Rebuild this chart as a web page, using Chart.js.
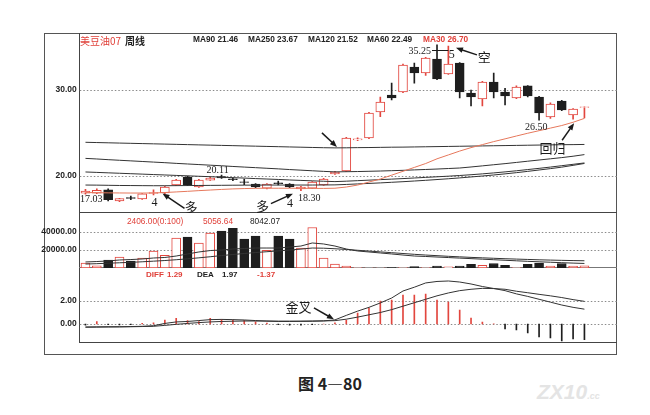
<!DOCTYPE html>
<html lang="zh-CN">
<head>
<meta charset="UTF-8">
<title>美豆油07 周线</title>
<script src="https://cdn.jsdelivr.net/npm/chart.js"></script>
<style>
    html, body { margin: 0; padding: 0; background: #fff; }
    body { position: relative; width: 650px; height: 415px; overflow: hidden; font-family: "Liberation Sans", Arial, sans-serif; color: #222; }
    canvas { position: absolute; left: 0; }
    .t { position: absolute; white-space: nowrap; line-height: 1; }
    .ln { position: absolute; background: #444; }
    .red { color: #e0413a; }
    .hd { top: 35px; font-size: 8.3px; font-weight: bold; }
    .vl { top: 217px; font-size: 8.3px; }
    .ml { top: 271px; font-size: 8px; font-weight: bold; }
    .cjk { font-family: "Noto Sans CJK SC", sans-serif; }
</style>
</head>
<body>

    <!-- frame -->
    <div style="position:absolute;left:44px;top:33px;width:573px;height:322px;border:1px solid #555;box-sizing:border-box"></div>
    <div class="ln" style="left:79px;top:33px;width:1px;height:310px"></div>
    <div class="ln" style="left:79px;top:212px;width:538px;height:1px"></div>
    <div class="ln" style="left:79px;top:267px;width:538px;height:1px;background:#777"></div>
    <div class="ln" style="left:79px;top:342px;width:538px;height:1px"></div>

    <canvas id="priceChart" width="617" height="179" style="top:34px"></canvas>
    <canvas id="volChart" width="617" height="55" style="top:213px"></canvas>
    <canvas id="macdChart" width="617" height="75" style="top:268px"></canvas>

    <!-- price panel header -->
    <div class="t red cjk" style="left:80px;top:36px;font-size:10px">美豆油07</div>
    <div class="t cjk" style="left:125px;top:36px;font-size:10px;font-weight:bold">周线</div>
    <div class="t hd" style="left:193px">MA90 21.46</div>
    <div class="t hd" style="left:248px">MA250 23.67</div>
    <div class="t hd" style="left:308px">MA120 21.52</div>
    <div class="t hd" style="left:367px">MA60 22.49</div>
    <div class="t hd red" style="left:423px">MA30 26.70</div>

    <!-- volume header -->
    <div class="t vl red" style="left:127px">2406.00(0:100)</div>
    <div class="t vl red" style="left:203px">5056.64</div>
    <div class="t vl" style="left:250px">8042.07</div>

    <!-- MACD header -->
    <div class="t ml red" style="left:146px">DIFF</div>
    <div class="t ml red" style="left:167px">1.29</div>
    <div class="t ml" style="left:197px">DEA</div>
    <div class="t ml" style="left:222px">1.97</div>
    <div class="t ml red" style="left:257px">-1.37</div>

    <div class="t cjk" style="left:298px;top:375px;font-size:16px;font-weight:bold">图 4—80</div>
    <div class="t" style="left:537px;top:381px;font-size:21px;font-weight:bold;font-style:italic;color:#e4e4e4">ZX10<span style="font-size:9px">.cc</span></div>

    <script>
        // weekly bars, left to right
        const weeks = ['01', '02', '03', '04', '05', '06', '07', '08', '09', '10',
                       '11', '12', '13', '14', '15', '16', '17', '18', '19', '20',
                       '21', '22', '23', '24', '25', '26', '27', '28', '29', '30',
                       '31', '32', '33', '34', '35', '36', '37', '38', '39', '40',
                       '41', '42', '43', '44', '45'];

        const opens  = [18.00, 18.00, 18.40, 17.10, 17.48, 17.33, 17.98, 18.02, 18.95, 19.88,
                        18.72, 19.53, 19.92, 19.68, 19.33, 19.07, 18.60, 19.22, 19.07, 18.50,
                        18.60, 18.95, 20.23, 20.58, 24.20, 24.42, 27.44, 29.42, 29.77, 32.67,
                        31.98, 33.60, 31.86, 33.14, 29.65, 28.95, 30.93, 29.77, 29.07, 30.47,
                        29.19, 26.86, 28.72, 27.09, 27.98];
        const highs  = [18.45, 18.50, 18.50, 17.42, 17.68, 17.96, 18.38, 18.80, 19.60, 20.00,
                        19.60, 19.85, 20.11, 19.80, 19.65, 19.12, 19.12, 19.42, 19.12, 18.80,
                        19.36, 19.72, 20.55, 24.50, 24.45, 27.40, 29.19, 30.81, 33.00, 33.14,
                        33.80, 35.25, 35.10, 33.20, 30.00, 31.00, 31.98, 30.20, 30.47, 30.50,
                        29.25, 28.50, 28.80, 27.85, 28.05];
        const lows   = [17.90, 17.95, 17.10, 17.03, 17.25, 17.28, 17.80, 17.95, 18.88, 18.88,
                        18.68, 19.48, 19.72, 19.45, 19.00, 18.65, 18.50, 18.95, 18.65, 18.30,
                        18.55, 18.90, 20.18, 20.50, 24.10, 24.35, 26.90, 28.84, 29.70, 30.80,
                        31.70, 31.20, 31.80, 29.07, 28.14, 28.14, 29.07, 28.26, 29.00, 29.20,
                        26.50, 26.70, 27.60, 26.60, 26.74];
        const closes = [18.25, 18.35, 17.25, 17.38, 17.40, 17.92, 18.08, 18.72, 19.53, 18.95,
                        19.53, 19.77, 19.78, 19.58, 19.25, 18.72, 19.07, 19.12, 18.72, 18.72,
                        19.30, 19.65, 20.47, 24.42, 24.32, 27.33, 28.60, 29.07, 32.90, 31.98,
                        33.72, 31.28, 33.02, 29.77, 29.19, 30.93, 29.77, 29.30, 30.35, 29.30,
                        27.33, 28.37, 27.67, 27.79, 28.05];

        const ma30  = [18.08, 18.06, 18.04, 18.03, 18.02, 18.02, 18.03, 18.08, 18.15, 18.22,
                       18.30, 18.37, 18.44, 18.50, 18.54, 18.57, 18.58, 18.58, 18.58, 18.57,
                       18.56, 18.56, 18.58, 18.72, 18.95, 19.30, 19.65, 20.10, 20.55, 21.00,
                       21.45, 22.00, 22.45, 22.90, 23.30, 23.65, 24.00, 24.32, 24.65, 24.97,
                       25.27, 25.57, 25.87, 26.25, 26.70];
        const ma60  = [22.05, 21.98, 21.90, 21.83, 21.76, 21.69, 21.62, 21.55, 21.47, 21.40,
                       21.33, 21.26, 21.19, 21.11, 21.04, 20.97, 20.90, 20.83, 20.75, 20.68,
                       20.61, 20.54, 20.48, 20.50, 20.52, 20.55, 20.58, 20.62, 20.66, 20.71,
                       20.76, 20.81, 20.87, 20.93, 21.05, 21.18, 21.31, 21.44, 21.58, 21.72,
                       21.86, 22.00, 22.14, 22.30, 22.49];
        const ma90  = [18.95, 18.94, 18.92, 18.90, 18.89, 18.88, 18.87, 18.87, 18.88, 18.89,
                       18.90, 18.91, 18.92, 18.93, 18.94, 18.94, 18.95, 18.95, 18.95, 18.95,
                       18.95, 18.96, 18.97, 19.02, 19.08, 19.14, 19.20, 19.27, 19.34, 19.42,
                       19.50, 19.59, 19.68, 19.78, 19.89, 20.00, 20.12, 20.25, 20.39, 20.54,
                       20.70, 20.86, 21.03, 21.24, 21.46];
        const ma120 = [20.47, 20.42, 20.37, 20.32, 20.27, 20.22, 20.17, 20.12, 20.07, 20.02,
                       19.97, 19.92, 19.86, 19.81, 19.76, 19.70, 19.65, 19.60, 19.54, 19.49,
                       19.44, 19.39, 19.35, 19.40, 19.46, 19.52, 19.58, 19.64, 19.70, 19.77,
                       19.84, 19.91, 19.98, 20.06, 20.15, 20.25, 20.36, 20.48, 20.61, 20.75,
                       20.89, 21.04, 21.20, 21.36, 21.52];
        const ma250 = [23.92, 23.89, 23.86, 23.83, 23.80, 23.77, 23.74, 23.71, 23.68, 23.65,
                       23.62, 23.59, 23.56, 23.53, 23.50, 23.47, 23.44, 23.41, 23.38, 23.35,
                       23.32, 23.29, 23.27, 23.28, 23.30, 23.31, 23.33, 23.35, 23.36, 23.38,
                       23.40, 23.42, 23.44, 23.46, 23.48, 23.50, 23.52, 23.54, 23.56, 23.58,
                       23.60, 23.62, 23.64, 23.65, 23.67];

        const volume  = [5500, 2500, 8900, 12200, 7800, 11100, 18900, 14000, 33300, 34400,
                         27800, 38900, 41000, 44000, 32200, 35600, 19500, 35600, 32200, 22200,
                         45000, 11100, 4400, 2200, 400, 300, 300, 400, 500, 1500,
                         600, 2000, 1300, 2000, 4000, 3000, 5000, 3000, 600, 4000,
                         5500, 2200, 5000, 2200, 2406];
        const volMa5  = [6700, 7200, 7800, 8900, 9400, 10000, 11100, 11700, 13300, 15600,
                         17800, 19400, 20000, 21100, 21700, 22200, 22200, 22200, 23300, 24400,
                         27800, 26700, 24400, 21100, 18900, 17800, 16700, 15600, 14400, 13300,
                         12800, 12200, 11600, 11000, 10400, 9800, 9200, 8600, 8000, 7400,
                         6900, 6400, 5900, 5450, 5057];
        const volMa10 = [4400, 4800, 5300, 5800, 6300, 6900, 7600, 8300, 9200, 10200,
                         11300, 12500, 13800, 15000, 16100, 17200, 18100, 19000, 20000, 21000,
                         22200, 22000, 21400, 20600, 19700, 18800, 17900, 17000, 16100, 15200,
                         14400, 13700, 13000, 12400, 11800, 11300, 10800, 10300, 9900, 9500,
                         9100, 8800, 8500, 8250, 8042];

        const diff    = [-0.26, -0.25, -0.24, -0.24, -0.22, -0.20, -0.15, 0.05, 0.18, 0.22,
                         0.30, 0.38, 0.40, 0.38, 0.35, 0.30, 0.25, 0.22, 0.22, 0.23,
                         0.24, 0.27, 0.36, 0.75, 1.12, 1.45, 1.83, 2.26, 2.87, 3.20,
                         3.57, 3.70, 3.74, 3.65, 3.48, 3.26, 3.09, 2.90, 2.62, 2.40,
                         2.15, 1.90, 1.65, 1.45, 1.29];
        const dea     = [-0.28, -0.27, -0.26, -0.25, -0.24, -0.22, -0.20, -0.12, -0.03, 0.05,
                         0.12, 0.18, 0.22, 0.24, 0.26, 0.26, 0.26, 0.25, 0.25, 0.25,
                         0.26, 0.27, 0.29, 0.42, 0.60, 0.80, 1.00, 1.25, 1.55, 1.85,
                         2.15, 2.45, 2.70, 2.90, 3.02, 3.10, 3.08, 3.02, 2.85, 2.72,
                         2.58, 2.45, 2.30, 2.12, 1.97];
        const macdBar = [-0.10, 0.20, -0.05, -0.08, -0.05, 0.05, 0.10, 0.35, 0.50, 0.29,
                         0.20, 0.50, 0.41, 0.35, 0.29, 0.18, 0.08, -0.05, -0.10, -0.10,
                         -0.05, 0.00, 0.10, 0.35, 0.96, 1.39, 2.00, 2.09, 2.52, 2.52,
                         2.60, 2.09, 1.91, 1.22, 0.52, 0.17, 0.02, -0.43, -0.52, -0.78,
                         -1.13, -1.22, -1.48, -1.30, -1.37];

        const priceTicks = [20, 30];
        const volTicks = [20000, 40000];
        const macdTicks = [0, 2];

        const RED = '#e2463e';
        const BLACK = '#1e1e1e';
        const LINE = '#333';
        const MA30_COLOR = '#e6785c';
        const INK = '#1a1a1a';
        const AXIS_W = 79.8;
        const RIGHT_PAD = 26.9;
        const NUM_FONT = '10px "Liberation Serif", "DejaVu Serif", serif';
        const DIGIT_FONT = '12px "Liberation Serif", "DejaVu Serif", serif';
        const CJK_FONT = '13px "Noto Sans CJK SC", sans-serif';

        const up = closes.map((c, i) => c >= opens[i]);

        function baseOptions(min, max, ticks) {
            return {
                responsive: false,
                animation: false,
                events: [],
                layout: { padding: { left: 0, right: RIGHT_PAD, top: 0, bottom: 0 } },
                plugins: { legend: { display: false }, tooltip: { enabled: false } },
                scales: {
                    x: { type: 'category', display: false, offset: true, grid: { display: false } },
                    y: {
                        min: min,
                        max: max,
                        afterBuildTicks: s => { s.ticks = ticks.map(v => ({ value: v })); },
                        afterFit: s => { s.width = AXIS_W; s.paddingTop = 0; s.paddingBottom = 0; },
                        grid: { display: false, drawTicks: false },
                        border: { display: false },
                        ticks: {
                            padding: 3,
                            color: '#222',
                            font: { family: 'Liberation Sans', size: 8.5, weight: 'bold' },
                            callback: v => Number(v).toFixed(2)
                        }
                    }
                }
            };
        }

        function maLine(label, data, color) {
            return { type: 'line', label: label, data: data, borderColor: color, borderWidth: 1,
                     pointRadius: 0, tension: 0, fill: false, order: 0 };
        }

        // dotted level lines running to the right edge of the frame
        const dottedGrid = {
            id: 'dottedGrid',
            beforeDatasetsDraw(chart) {
                const { ctx, chartArea, scales: { y } } = chart;
                ctx.save();
                ctx.strokeStyle = '#8a8a8a';
                ctx.lineWidth = 1;
                ctx.setLineDash([1.5, 2]);
                y.ticks.forEach(t => {
                    const py = Math.round(y.getPixelForValue(t.value)) + 0.5;
                    ctx.beginPath();
                    ctx.moveTo(chartArea.left, py);
                    ctx.lineTo(chart.width, py);
                    ctx.stroke();
                });
                ctx.restore();
            }
        };

        function text(ctx, str, x, y, font, align) {
            ctx.font = font;
            ctx.textAlign = align || 'center';
            ctx.textBaseline = 'middle';
            ctx.fillText(str, x, y);
        }

        function arrow(ctx, x1, y1, x2, y2) {
            const a = Math.atan2(y2 - y1, x2 - x1), L = 7, W = 2.8;
            ctx.beginPath();
            ctx.moveTo(x1, y1);
            ctx.lineTo(x2 - L * 0.6 * Math.cos(a), y2 - L * 0.6 * Math.sin(a));
            ctx.stroke();
            ctx.beginPath();
            ctx.moveTo(x2, y2);
            ctx.lineTo(x2 - L * Math.cos(a) + W * Math.sin(a), y2 - L * Math.sin(a) - W * Math.cos(a));
            ctx.lineTo(x2 - L * Math.cos(a) - W * Math.sin(a), y2 - L * Math.sin(a) + W * Math.cos(a));
            ctx.closePath();
            ctx.fill();
        }

        const priceNotes = {
            id: 'priceNotes',
            afterDatasetsDraw(chart) {
                const { ctx, scales: { x, y } } = chart;
                const X = i => x.getPixelForValue(i);
                const Y = v => y.getPixelForValue(v);
                ctx.save();
                ctx.fillStyle = INK;
                ctx.strokeStyle = INK;

                // marked highs and lows
                text(ctx, lows[3].toFixed(2), X(3) - 17, Y(lows[3]) - 2, NUM_FONT, 'right');
                text(ctx, highs[12].toFixed(2), X(12) - 15, Y(highs[12]) - 5, NUM_FONT, 'left');
                text(ctx, lows[19].toFixed(2), X(19) - 3, Y(lows[19]) + 7.5, NUM_FONT, 'left');
                text(ctx, highs[31].toFixed(2), X(31) - 6, Y(highs[31]) + 7, NUM_FONT, 'right');
                text(ctx, lows[40].toFixed(2), X(40) - 14, Y(lows[40]) + 7.5, NUM_FONT, 'left');

                ctx.lineWidth = 1;
                ctx.beginPath();
                ctx.moveTo(X(31) - 5, Math.round(Y(highs[31]) + 5) + 0.5);
                ctx.lineTo(X(32), Math.round(Y(highs[31]) + 5) + 0.5);
                ctx.stroke();

                ctx.lineWidth = 1.5;
                // first buy signal
                text(ctx, '4', X(6) + 1, Y(lows[6]) + 7.5, DIGIT_FONT);
                text(ctx, '多', X(6) + 37.5, Y(lows[6]) + 12, CJK_FONT);
                arrow(ctx, X(6) + 31, Y(lows[6]) + 13.5, X(6) + 9, Y(lows[6]) - 1.5);

                // second buy signal
                text(ctx, '多', X(19) - 38.5, Y(lows[19]) + 15.5, CJK_FONT);
                text(ctx, '4', X(19) - 11, Y(lows[19]) + 13, DIGIT_FONT);
                arrow(ctx, X(19) - 30, Y(lows[19]) + 13, X(19) - 8, Y(lows[19]) + 3);

                // breakout through the long average
                arrow(ctx, X(22) - 13, Y(ma250[22]) - 15, X(22) + 2, Y(ma250[22]) - 1);

                // top
                text(ctx, '5', X(32) + 3.5, Y(highs[31]) + 10.5, DIGIT_FONT);
                text(ctx, '空', X(32) + 36, Y(highs[31]) + 12, CJK_FONT);
                arrow(ctx, X(32) + 28.6, Y(highs[31]) + 10, X(32) + 7.6, Y(highs[31]) + 3);

                // pullback to MA30
                text(ctx, '回归', X(43) - 20.5, Y(lows[43]) + 28.5, CJK_FONT);
                arrow(ctx, X(43) - 11, Y(lows[43]) + 21, X(43) + 1, Y(lows[43]) + 4);
                ctx.restore();
            }
        };

        const macdNotes = {
            id: 'macdNotes',
            afterDatasetsDraw(chart) {
                const { ctx, scales: { x, y } } = chart;
                const px = x.getPixelForValue(22);
                const py = y.getPixelForValue(diff[22]);
                ctx.save();
                ctx.fillStyle = INK;
                ctx.strokeStyle = INK;
                ctx.lineWidth = 1.5;
                text(ctx, '金叉', px - 36.5, py - 13, CJK_FONT);
                arrow(ctx, px - 21, py - 12, px - 1, py - 0.5);
                ctx.restore();
            }
        };

        // candles + moving averages
        new Chart(document.getElementById('priceChart'), {
            type: 'bar',
            data: {
                labels: weeks,
                datasets: [
                    maLine('MA30', ma30, MA30_COLOR),
                    maLine('MA60', ma60, LINE),
                    maLine('MA90', ma90, LINE),
                    maLine('MA120', ma120, LINE),
                    maLine('MA250', ma250, LINE),
                    {
                        label: 'body',
                        data: opens.map((o, i) => [o, closes[i]]),
                        backgroundColor: up.map(u => u ? '#fff' : BLACK),
                        borderColor: up.map(u => u ? RED : BLACK),
                        borderWidth: 1,
                        borderSkipped: false,
                        barThickness: 9,
                        grouped: false,
                        order: 1
                    },
                    {
                        label: 'wick',
                        data: lows.map((l, i) => [l, highs[i]]),
                        backgroundColor: up.map(u => u ? RED : BLACK),
                        barThickness: 1,
                        grouped: false,
                        order: 2
                    }
                ]
            },
            options: baseOptions(15.70, 36.51, priceTicks),
            plugins: [dottedGrid, priceNotes]
        });

        // volume
        new Chart(document.getElementById('volChart'), {
            type: 'bar',
            data: {
                labels: weeks,
                datasets: [
                    maLine('MAVOL5', volMa5, LINE),
                    maLine('MAVOL10', volMa10, LINE),
                    {
                        label: 'VOL',
                        data: volume,
                        backgroundColor: up.map(u => u ? '#fff' : BLACK),
                        borderColor: up.map(u => u ? RED : BLACK),
                        borderWidth: 1,
                        borderSkipped: false,
                        barThickness: 9,
                        order: 1
                    }
                ]
            },
            options: baseOptions(0, 61111, volTicks),
            plugins: [dottedGrid]
        });

        // MACD
        new Chart(document.getElementById('macdChart'), {
            type: 'bar',
            data: {
                labels: weeks,
                datasets: [
                    maLine('DIFF', diff, LINE),
                    maLine('DEA', dea, LINE),
                    {
                        label: 'MACD',
                        data: macdBar,
                        backgroundColor: macdBar.map(v => v >= 0 ? RED : BLACK),
                        barThickness: 1,
                        order: 1
                    }
                ]
            },
            options: baseOptions(-1.652, 4.87, macdTicks),
            plugins: [dottedGrid, macdNotes]
        });
    </script>

</body>
</html>
